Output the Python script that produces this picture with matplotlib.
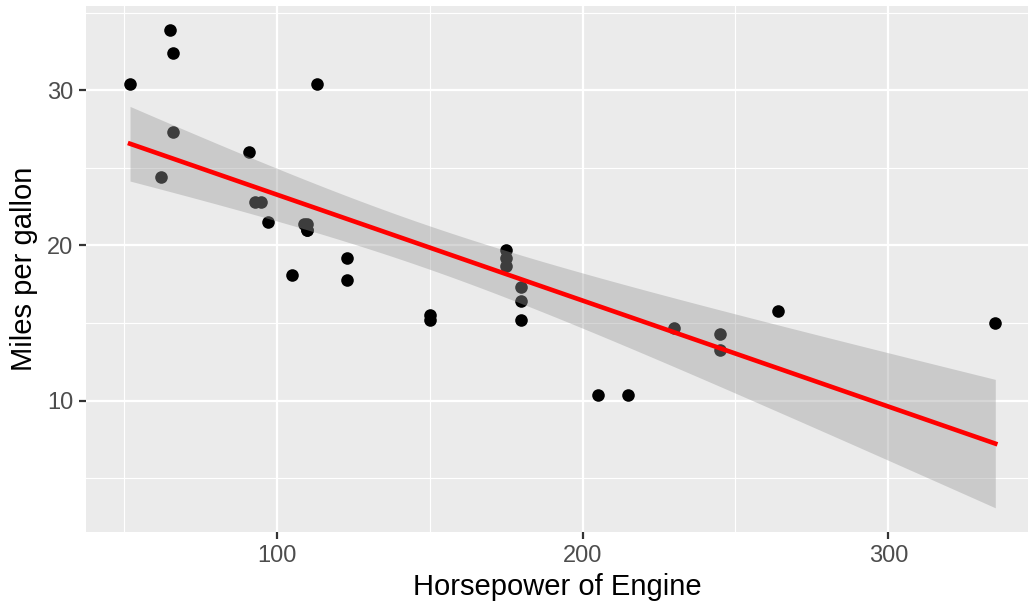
import numpy as np
import matplotlib.pyplot as plt

# mtcars: horsepower and miles per gallon
hp = np.array([110, 110, 93, 110, 175, 105, 245, 62, 95, 123, 123, 180, 180, 180, 205, 215,
               230, 66, 52, 65, 97, 150, 150, 245, 175, 66, 91, 113, 264, 175, 335, 109])
mpg = np.array([21.0, 21.0, 22.8, 21.4, 18.7, 18.1, 14.3, 24.4, 22.8, 19.2, 17.8, 16.4, 17.3, 15.2,
                10.4, 10.4, 14.7, 32.4, 30.4, 33.9, 21.5, 15.5, 15.2, 13.3, 19.2, 27.3, 26.0, 30.4,
                15.8, 19.7, 15.0, 21.4])
x_ticks = [100, 200, 300]
y_ticks = [10, 20, 30]

# linear fit with 95% confidence band
n = len(hp)
X = np.column_stack([np.ones(n), hp])
beta, *_ = np.linalg.lstsq(X, mpg, rcond=None)
resid = mpg - X @ beta
s2 = resid @ resid / (n - 2)
XtX_inv = np.linalg.inv(X.T @ X)
t_crit = 2.042272  # t(0.975, df=30)
xs = np.linspace(hp.min(), hp.max(), 80)
Xs = np.column_stack([np.ones_like(xs), xs])
fit = Xs @ beta
se = np.sqrt(s2 * np.einsum('ij,jk,ik->i', Xs, XtX_inv, Xs))
lo, hi = fit - t_crit * se, fit + t_crit * se

plt.rcParams['font.family'] = ['Liberation Sans', 'DejaVu Sans']
fig = plt.figure(figsize=(10.28, 6.02), dpi=100)
ax = fig.add_axes([86/1028, 1 - 532/602, (1028 - 86)/1028, (532 - 6)/602])
ax.set_facecolor('#EBEBEB')

ax.scatter(hp, mpg, s=82, color='black', zorder=3, linewidths=0)
ax.fill_between(xs, lo, hi, color='#999999', alpha=0.4, linewidth=0, zorder=4)
ax.plot(xs, fit, color='red', linewidth=3.3, zorder=5)

ax.set_xlim(37.6, 345.7)
ax.set_ylim(1.55, 35.42)
ax.set_xticks(x_ticks)
ax.set_yticks(y_ticks)
ax.set_xticks([50, 150, 250], minor=True)
ax.set_yticks([5, 15, 25, 35], minor=True)
ax.grid(True, which='major', color='white', linewidth=1.6, zorder=0)
ax.grid(True, which='minor', color='white', linewidth=0.8, zorder=0)
ax.set_axisbelow(True)
for sp in ax.spines.values():
    sp.set_visible(False)
ax.tick_params(which='major', length=5, width=1.6, color='#333333', labelcolor='#4D4D4D',
               labelsize=17, pad=4)
ax.tick_params(which='minor', length=0)
ax.set_xlabel('Horsepower of Engine', fontsize=21, labelpad=5)
ax.set_ylabel('Miles per gallon', fontsize=21, labelpad=7)

fig.savefig('out.png', dpi=100)
